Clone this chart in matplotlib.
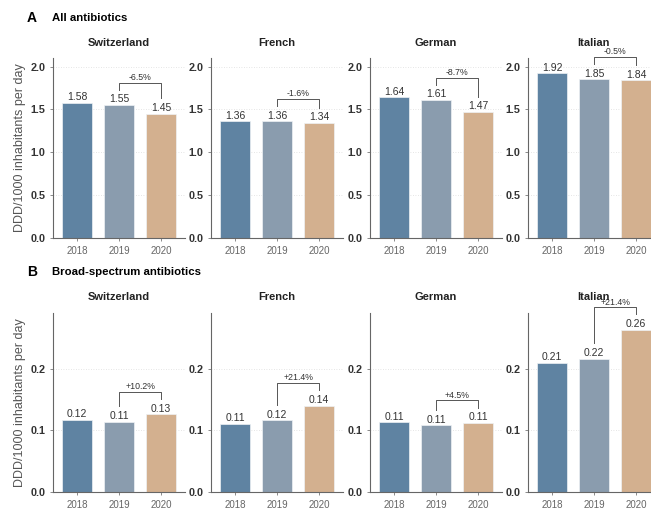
import matplotlib
matplotlib.use("Agg")
import matplotlib.pyplot as plt

plt.rcParams["font.family"] = ["Liberation Sans", "DejaVu Sans"]

years = ["2018", "2019", "2020"]
regions = ["Switzerland", "French", "German", "Italian"]
bar_colors = ["#5f83a2", "#8a9cae", "#d3b08f"]

# DDD/1000 inhabitants per day, one list per region
all_values = [
    [1.58, 1.55, 1.45],
    [1.36, 1.36, 1.34],
    [1.64, 1.61, 1.47],
    [1.92, 1.85, 1.84],
]
all_change = ["-6.5%", "-1.6%", "-8.7%", "-0.5%"]

broad_values = [
    [0.117, 0.114, 0.126],
    [0.110, 0.116, 0.140],
    [0.113, 0.108, 0.112],
    [0.209, 0.216, 0.263],
]
broad_change = ["+10.2%", "+21.4%", "+4.5%", "+21.4%"]

W, H = 651, 508
fig = plt.figure(figsize=(W / 100, H / 100), dpi=100)

lefts = [53, 211, 370, 528]
axis_w = 132


def px_axes(left, top, bottom):
    return fig.add_axes([left / W, 1 - bottom / H, axis_w / W, (bottom - top) / H])


def draw_row(values, changes, top, bottom, ymax, yticks):
    for i, region in enumerate(regions):
        ax = px_axes(lefts[i], top, bottom)
        vals = values[i]
        xs = range(len(years))
        ax.bar(xs, vals, width=0.7, color=bar_colors, edgecolor="#eef2f5", linewidth=0.5, zorder=2)
        for x, v in zip(xs, vals):
            ax.text(x, v + ymax * 0.004, f"{v:.2f}", ha="center", va="bottom",
                    fontsize=7.5, color="#333333", zorder=3)

        # bracket between 2019 and 2020 with the relative change
        br = max(vals[1], vals[2]) + ymax * 0.125
        ax.plot([1, 1, 2, 2],
                [vals[1] + ymax * 0.085, br, br, vals[2] + ymax * 0.085],
                color="#555555", lw=0.7, clip_on=False, zorder=3)
        ax.text(1.5, br + ymax * 0.004, changes[i], ha="center", va="bottom",
                fontsize=6.3, color="#333333", clip_on=False)

        ax.set_xlim(-0.57, 2.57)
        ax.set_ylim(0, ymax)
        ax.set_xticks(list(xs))
        ax.set_xticklabels(years, fontsize=7, color="#666666")
        ax.set_yticks(yticks)
        ax.set_yticklabels([f"{t:.1f}" for t in yticks], fontsize=7.8,
                           fontweight="bold", color="#333333")
        ax.tick_params(axis="both", length=2.5, width=0.6, color="#777777", pad=3)
        ax.yaxis.grid(True, linestyle=(0, (1, 2)), color="#dddddd", lw=0.6, zorder=0)
        ax.set_axisbelow(True)
        for side in ["top", "right"]:
            ax.spines[side].set_visible(False)
        for side in ["left", "bottom"]:
            ax.spines[side].set_color("#666666")
            ax.spines[side].set_linewidth(0.8)
        ax.set_title(region, fontsize=8, fontweight="bold", pad=9, color="#222222")
        if i == 0:
            ax.set_ylabel("DDD/1000 inhabitants per day", fontsize=9, color="#555555", labelpad=3)


draw_row(all_values, all_change, 58, 238, 2.1, [0.0, 0.5, 1.0, 1.5, 2.0])
draw_row(broad_values, broad_change, 313, 492, 0.29, [0.0, 0.1, 0.2])

fig.text(27 / W, 1 - 18 / H, "A", fontsize=10, fontweight="bold", va="center", ha="left")
fig.text(52 / W, 1 - 18 / H, "All antibiotics", fontsize=8.2, fontweight="bold",
         va="center", ha="left")
fig.text(27 / W, 1 - 272 / H, "B", fontsize=10, fontweight="bold", va="center", ha="left")
fig.text(52 / W, 1 - 272 / H, "Broad-spectrum antibiotics", fontsize=8.2, fontweight="bold",
         va="center", ha="left")

fig.savefig("out.png", dpi=100)
